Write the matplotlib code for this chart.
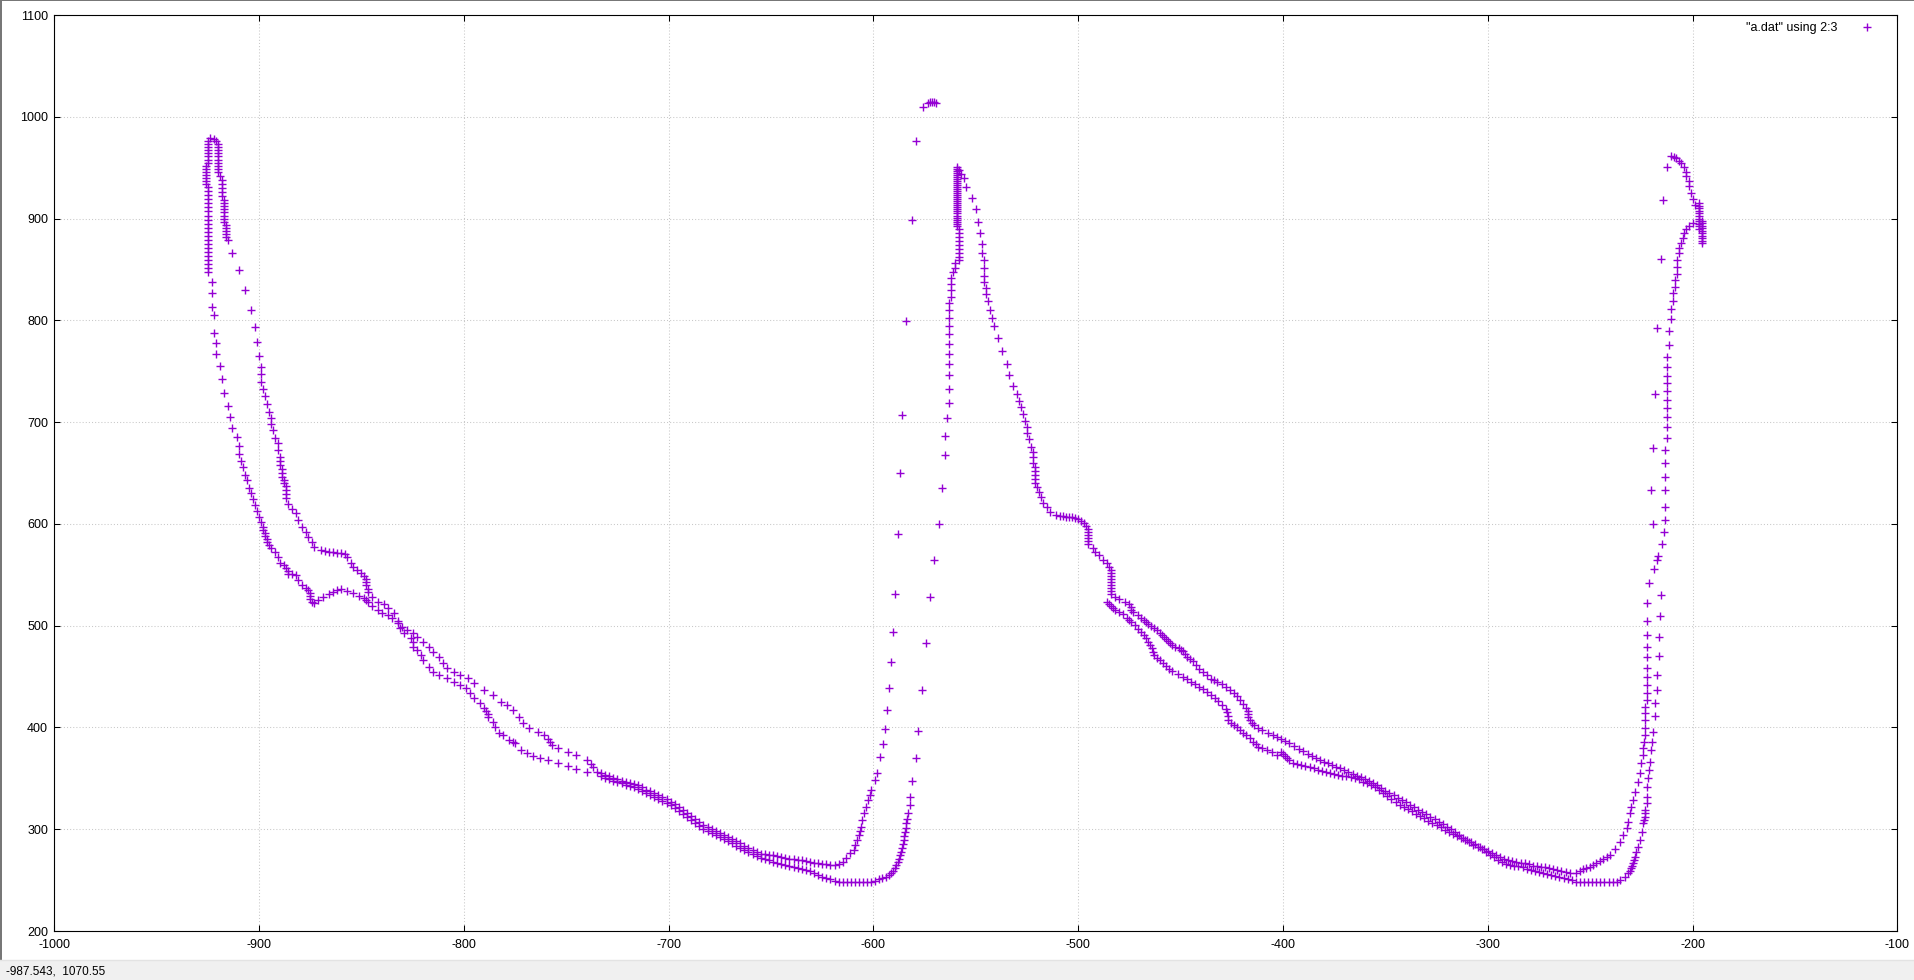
import matplotlib
matplotlib.use("Agg")
import matplotlib.pyplot as plt
from matplotlib.patches import Rectangle
from matplotlib.lines import Line2D

# ---- data: (x, y) = columns 2:3 of a.dat ----

# first cycle, left peak
peak1_outer = [(-924, 979), (-925, 976), (-925, 973), (-925, 970), (-925, 967), (-925, 964),
               (-925, 961), (-925, 958), (-925, 955), (-926, 952), (-926, 949), (-926, 946),
               (-926, 943), (-926, 940), (-926, 937), (-926, 934), (-925, 931), (-925, 927),
               (-925, 923), (-925, 919), (-925, 915), (-925, 911), (-925, 907), (-925, 903),
               (-925, 899), (-925, 895), (-925, 891), (-925, 887), (-925, 883), (-925, 879),
               (-925, 875), (-925, 871), (-925, 867), (-925, 863), (-925, 859), (-925, 855),
               (-925, 851), (-925, 847), (-923, 838), (-923, 827), (-923, 813), (-922, 805),
               (-922, 788), (-921, 778), (-921, 767), (-919, 755), (-918, 742)]
peak1_inner = [(-922, 978), (-921, 976), (-920, 973), (-920, 970), (-920, 967), (-920, 964),
               (-920, 961), (-920, 958), (-920, 955), (-920, 952), (-920, 949), (-920, 946),
               (-919, 942), (-918, 938), (-918, 934), (-918, 930), (-918, 926), (-918, 922),
               (-917, 918), (-917, 915), (-917, 912), (-917, 909), (-917, 906), (-917, 903),
               (-917, 900), (-917, 897), (-916, 894), (-916, 891), (-916, 888), (-916, 885),
               (-916, 882), (-915, 879)]

# first cycle, the two falling branches
fall1_upper = [(-913, 866), (-910, 849), (-907, 830), (-904, 810), (-902, 793), (-901, 779),
               (-900, 765), (-899, 754), (-899, 747), (-899, 739), (-898, 733), (-897, 726),
               (-896, 718), (-895, 710), (-894, 704), (-894, 698), (-893, 692), (-892, 684),
               (-891, 679), (-891, 673), (-890, 666), (-890, 662), (-890, 658), (-889, 654),
               (-889, 650), (-889, 646), (-888, 643), (-888, 640), (-887, 637), (-887, 633),
               (-887, 629), (-887, 625), (-886, 620), (-884, 615), (-882, 611), (-881, 604),
               (-879, 597), (-877, 592), (-876, 587), (-874, 582), (-873, 577), (-870, 574),
               (-868, 573), (-866, 572), (-864, 572), (-862, 571), (-860, 571), (-858, 570),
               (-857, 567), (-855, 562), (-854, 558), (-852, 555), (-850, 552), (-849, 549),
               (-848, 546), (-848, 543), (-848, 540), (-847, 536), (-847, 533), (-845, 528),
               (-842, 523), (-839, 521), (-837, 517), (-834, 512), (-832, 505), (-830, 499),
               (-828, 496), (-825, 493), (-823, 489), (-820, 484), (-817, 479), (-815, 474),
               (-812, 469), (-810, 463), (-808, 458), (-805, 454), (-802, 452), (-798, 449),
               (-795, 444), (-790, 437), (-786, 432), (-782, 425), (-779, 422), (-776, 417),
               (-773, 410), (-771, 404), (-768, 399), (-764, 396), (-761, 393), (-759, 389),
               (-758, 386), (-757, 383), (-754, 380), (-749, 376), (-745, 373), (-740, 368),
               (-738, 364), (-737, 361)]
fall1_lower = [(-917, 729), (-915, 716), (-914, 705), (-913, 694), (-911, 685), (-910, 677),
               (-910, 669), (-909, 662), (-908, 656), (-907, 648), (-906, 643), (-905, 635),
               (-904, 630), (-903, 624), (-902, 619), (-901, 613), (-900, 607), (-899, 602),
               (-898, 597), (-898, 594), (-897, 591), (-897, 588), (-896, 585), (-896, 582),
               (-895, 579), (-894, 576), (-892, 572), (-891, 567), (-890, 562), (-888, 560),
               (-887, 557), (-886, 554), (-886, 551), (-884, 551), (-882, 550), (-881, 545),
               (-879, 540), (-877, 537), (-876, 535), (-875, 532), (-875, 529), (-875, 526),
               (-874, 523), (-873, 522), (-871, 525), (-869, 528), (-866, 531), (-864, 533),
               (-862, 535), (-860, 536), (-857, 534), (-854, 532), (-851, 529), (-849, 527),
               (-848, 525), (-847, 523), (-845, 519), (-842, 515), (-840, 512), (-837, 510),
               (-835, 508), (-832, 503), (-831, 498), (-829, 493), (-826, 488), (-825, 484),
               (-825, 479), (-823, 476), (-821, 471), (-820, 466), (-817, 459), (-815, 454),
               (-812, 452), (-808, 449), (-805, 445), (-802, 442), (-799, 439), (-797, 434),
               (-795, 429), (-792, 424), (-790, 419), (-789, 416), (-788, 413), (-788, 410),
               (-786, 405), (-785, 400), (-783, 395), (-781, 393), (-778, 388), (-776, 386),
               (-775, 385), (-772, 378), (-769, 375), (-766, 372), (-763, 370), (-759, 368),
               (-754, 365), (-749, 362), (-745, 359), (-740, 356)]

# first trough: upper branch, then its sparse climb to the top at -570
trough1_upper = [(-735, 356), (-733, 355), (-731, 353.5), (-729, 352), (-727, 350.5),
                 (-725, 349), (-723, 347.5), (-721, 346.5), (-719, 345.5), (-717, 344.5),
                 (-715, 343), (-713, 341), (-711, 339), (-709, 337.5), (-707, 336), (-705, 334),
                 (-703, 332), (-701, 329.5), (-699, 327), (-697, 324.5), (-695, 322),
                 (-693, 319), (-691, 316), (-689, 313), (-687, 310), (-685, 307),
                 (-683, 304.5), (-681, 302), (-679, 300), (-677, 298), (-675, 296), (-673, 294),
                 (-671, 292), (-669, 290), (-667, 288), (-665, 286), (-663, 284), (-661, 282),
                 (-659, 280), (-657, 278), (-655, 276), (-653, 275.5), (-651, 275),
                 (-649, 274.5), (-647, 273.5), (-645, 272.5), (-643, 272), (-641, 271),
                 (-639, 270.5), (-637, 269.8), (-635, 269.5), (-633, 269), (-631, 268),
                 (-629, 267), (-627, 266.5), (-625, 266), (-623, 265.5), (-621, 265),
                 (-619, 265), (-617, 266), (-615, 268)]
climb1_left = [(-613.2, 271.4), (-611.5, 276.3), (-609.7, 279.6), (-608.8, 284.5),
               (-608, 289.4), (-607.1, 294.3), (-606.6, 298.5), (-606.2, 302.5),
               (-605.4, 309.1), (-604.5, 315.6), (-603.6, 322.1), (-602.7, 328.7),
               (-601.9, 333.6), (-601, 338.5), (-599.3, 348.4), (-598.4, 354.9), (-597, 371.3),
               (-595.3, 383.7), (-594.4, 398.2), (-593.5, 417.1), (-592.3, 438.4),
               (-591.3, 464), (-590.4, 493.5), (-589.3, 531.1), (-588, 590), (-587, 650),
               (-586, 707), (-584, 799), (-581, 899), (-579, 976), (-576, 1010),
               (-573.5, 1014), (-572.5, 1015), (-571.5, 1015), (-570.5, 1015), (-569.5, 1014)]

# first trough: lower branch, then its climb into the middle peak
trough1_lower = [(-733, 352), (-731, 350.5), (-729, 349), (-727, 347.5), (-725, 346.5),
                 (-723, 345), (-721, 343.5), (-719, 342), (-717, 341), (-715, 339.5),
                 (-713, 338), (-711, 336), (-709, 334), (-707, 332), (-705, 330), (-703, 328),
                 (-701, 326), (-699, 324), (-697, 321), (-695, 318), (-693, 315), (-691, 312),
                 (-689, 309), (-687, 306), (-685, 303), (-683, 300.5), (-681, 298),
                 (-679, 296), (-677, 294), (-675, 292), (-673, 290), (-671, 288), (-669, 286),
                 (-667, 284), (-665, 282), (-663, 280), (-661, 278), (-659, 276), (-657, 274),
                 (-655, 272), (-653, 271), (-651, 269.5), (-649, 268), (-647, 267),
                 (-645, 265.5), (-643, 264.5), (-641, 263.5), (-639, 263), (-637, 262),
                 (-635, 261), (-633, 260), (-631, 258.5), (-629, 257), (-627, 255),
                 (-625, 253.5), (-623, 252.5), (-621, 251.5), (-619, 249.5), (-617, 248.5),
                 (-615, 248.5), (-613, 248.5), (-611, 248.5), (-609, 248.5), (-607, 248.5),
                 (-605, 248.5), (-603, 248.5), (-601, 248.5)]
climb1_right = [(-599, 249.5), (-597.5, 250.8), (-596, 252), (-594, 253.4), (-592.5, 255),
                (-591.4, 256.7), (-590.5, 259), (-589.7, 261.6), (-588.8, 265),
                (-587.9, 268.1), (-587.4, 271), (-587, 274.7), (-586.6, 278), (-586.2, 281.3),
                (-585.7, 285), (-585.3, 289.4), (-585, 293), (-584.8, 297.6), (-584.3, 301.5),
                (-583.9, 305.8), (-583.4, 310), (-583, 315.6), (-582, 323.8), (-582, 331.7),
                (-581, 347.4), (-579.2, 369.7), (-578.2, 396.8), (-576.1, 436.8),
                (-574.3, 482.7), (-572.2, 527.9), (-570.2, 564.5), (-568, 600),
                (-566.5, 635), (-565, 668), (-565, 686), (-564, 704), (-563, 719), (-563, 733),
                (-563, 746), (-563, 757), (-563, 767), (-563, 777), (-563, 787), (-563, 794),
                (-563, 802), (-563, 810), (-563, 817), (-562, 823), (-562, 830), (-562, 836),
                (-562, 842), (-561, 847), (-560, 851), (-560, 856)]

# middle peak column
peak2 = [(-558, 859), (-558, 862), (-558, 866), (-558, 870), (-558, 874), (-558, 878),
         (-558, 882), (-558, 886), (-558, 890), (-559, 893), (-559, 895), (-559, 897),
         (-559, 899), (-559, 901), (-559, 903), (-559, 905), (-559, 907), (-559, 909),
         (-559, 911), (-559, 913), (-559, 915), (-559, 917), (-559, 919), (-559, 921),
         (-559, 923), (-559, 925), (-559, 927), (-559, 929), (-559, 931), (-559, 933),
         (-559, 935), (-559, 937), (-559, 939), (-559, 941), (-559, 943), (-559, 945),
         (-559, 947), (-559, 949), (-559, 951)]

# second cycle, falling from the middle peak
fall2_main = [(-558, 948), (-557, 944), (-556, 940), (-555, 931), (-552, 920), (-550, 909),
              (-549, 897), (-548, 886), (-547, 875), (-547, 866), (-546, 859), (-546, 851),
              (-546, 844), (-546, 838), (-545, 832), (-545, 826), (-544, 819), (-543, 810),
              (-542, 802), (-541, 794), (-539, 783), (-537, 770), (-535, 757), (-534, 746),
              (-532, 735), (-530, 728), (-529, 721), (-528, 715), (-527, 708), (-526, 701),
              (-525, 695), (-525, 689), (-524, 683), (-523, 676), (-522, 671), (-522, 666),
              (-522, 660), (-521, 656), (-521, 652), (-521, 648), (-521, 644), (-521, 640),
              (-520, 636), (-519, 631), (-518, 626), (-517, 621), (-515, 617), (-514, 612),
              (-511, 609), (-509, 608), (-507.5, 607.5), (-506, 607), (-504.5, 607),
              (-503, 606.5), (-501.5, 606), (-500, 605), (-498.5, 603), (-497, 601),
              (-496, 598), (-495, 595), (-495, 592), (-495, 589), (-495, 586), (-495, 583),
              (-495, 580), (-493, 576), (-492, 572), (-490, 569), (-488, 565), (-486, 562),
              (-485, 558), (-484, 555), (-484, 552), (-484, 549), (-484, 546), (-484, 543),
              (-484, 540), (-484, 537), (-484, 534), (-484, 531), (-482, 528), (-480, 526),
              (-477, 523), (-475, 521), (-474, 518), (-474, 515), (-473, 513)]
fall2_upper = [(-471, 510), (-469.5, 508), (-468, 506), (-467, 504), (-466, 502),
               (-464.5, 500), (-463, 498), (-461.5, 495.5), (-460, 493), (-459, 491),
               (-458, 489), (-457, 487), (-456, 485), (-455, 483), (-454, 481),
               (-452.5, 479.5), (-451, 478), (-450, 476.5), (-449, 475), (-448, 472),
               (-447, 469), (-445.5, 467), (-444, 465), (-442.5, 461), (-441, 457),
               (-439, 454.5), (-437, 452), (-435, 448), (-433.5, 446.5), (-432, 445),
               (-430, 442.5), (-428, 440), (-426, 437), (-424, 434), (-422.5, 430.5),
               (-421, 427), (-419.5, 423), (-418, 419), (-417, 416), (-417, 413), (-417, 410),
               (-416, 407), (-415, 404.5), (-414, 402), (-412, 399.5), (-410, 397),
               (-407.5, 395), (-405, 393), (-403, 391), (-401, 389), (-399, 387), (-397, 385),
               (-394.5, 382), (-392, 379), (-390, 376.5), (-388, 374), (-386, 372),
               (-384, 370), (-382, 368), (-380, 366.5), (-378, 365), (-376, 363),
               (-374, 361.5), (-372, 360), (-370, 358.5), (-368, 356.5), (-366, 354),
               (-364, 352.5), (-362, 351), (-360, 349), (-358, 347), (-356, 345), (-354, 343),
               (-352, 340.5), (-350, 338), (-348, 336), (-346, 334), (-344, 331), (-342, 329),
               (-340, 326.5), (-338, 324), (-336, 321.5), (-334, 319), (-332, 317),
               (-330, 315), (-328, 312.5), (-326, 310), (-324, 307.5), (-322, 305),
               (-320, 302.5), (-318, 300), (-316, 297), (-314, 294), (-312, 291.5),
               (-310, 289), (-308, 287), (-306, 285), (-304, 283), (-302, 281), (-300, 279),
               (-298, 277), (-296, 275), (-294, 273), (-292, 271), (-290, 269.5),
               (-288, 268.5), (-286, 267.5), (-284, 267), (-282, 266.5), (-280, 265.5),
               (-278, 264), (-276, 263.5), (-274, 263), (-272, 262.5), (-270, 261.5),
               (-268, 260.5), (-266, 259.5), (-264, 258.5), (-262, 258), (-260, 257)]
fall2_lower = [(-486, 523), (-485, 521), (-484, 519), (-483, 517), (-482, 515), (-480, 513),
               (-478, 511), (-476, 508), (-475, 506), (-474, 504), (-472.5, 500.5),
               (-471, 497), (-469.5, 494), (-468, 491), (-467, 487.5), (-466, 484),
               (-465, 481), (-464, 478), (-463.5, 474.5), (-463, 471), (-461.5, 468.5),
               (-460, 466), (-458.5, 463), (-457, 460), (-455.5, 457.5), (-454, 455),
               (-451.5, 452.5), (-449, 450), (-447, 447.5), (-445, 445), (-443, 442.5),
               (-441, 440), (-439, 437.5), (-437, 435), (-435, 432), (-433, 429),
               (-431.5, 425.5), (-430, 422), (-428, 418), (-427.5, 415.5), (-427, 411),
               (-427, 407), (-425.5, 404.5), (-424, 402), (-422.5, 400), (-421, 397.5),
               (-419.5, 395), (-418, 393), (-416, 389.5), (-414.5, 386), (-413, 383.5),
               (-412, 381), (-410, 379.5), (-408, 378), (-405.5, 375.5), (-403, 373),
               (-401, 376), (-400, 374), (-399, 372), (-398, 370), (-397, 368), (-395, 365),
               (-393, 364), (-391, 363.5), (-389, 362.5), (-387, 361.5), (-385, 360),
               (-383, 358.5), (-381, 357), (-379, 356), (-377, 355.5), (-375, 354.5),
               (-373, 353.5), (-371, 352.5), (-369, 352), (-367, 351), (-365, 350),
               (-363, 349), (-361, 346.5), (-359, 345), (-357, 343), (-355, 341),
               (-353, 338.5), (-351, 336), (-349, 333), (-347, 330), (-345, 327), (-343, 324),
               (-341, 322), (-339, 320), (-337, 317.5), (-335, 315), (-333, 313), (-331, 311),
               (-329, 308.5), (-327, 306), (-325, 304), (-323, 302), (-321, 299.5),
               (-319, 297.5), (-317, 295.5), (-315, 293.5), (-313, 291), (-311, 289),
               (-309, 287), (-307, 284.5), (-305, 282.5), (-303, 280.5), (-301, 278),
               (-299, 275), (-297, 272.5), (-295, 270), (-293, 268), (-291, 266), (-289, 265),
               (-287, 264), (-285, 263.5), (-283, 262.5), (-281, 261), (-279, 260),
               (-277, 258.5), (-275, 257.5), (-273, 257), (-271, 256), (-269, 255),
               (-267, 254), (-265, 253), (-263, 252), (-261, 251), (-259, 250)]

# second trough: upper branch climbing into the right peak column
climb2_left = [(-257, 257.3), (-255, 259), (-253.4, 260.6), (-251.8, 262), (-250.2, 263.2),
               (-248.5, 265), (-247, 267), (-245.3, 268.8), (-243.6, 270.4), (-242, 272.5),
               (-240.4, 274.7), (-238, 281), (-235.5, 287.7), (-234, 294), (-232, 301),
               (-231.4, 307), (-230.6, 315.6), (-229.8, 322), (-229, 329), (-228, 337),
               (-226.6, 346.7), (-225.7, 355), (-225, 365), (-224.4, 373), (-224, 379.5),
               (-223.6, 386), (-223.3, 392.6), (-223, 399), (-223, 407), (-223, 414),
               (-223, 420), (-222.4, 427), (-222.4, 434), (-222.4, 442), (-222.4, 450),
               (-222.4, 458), (-222.4, 469), (-222.4, 479), (-222.4, 491), (-222.4, 505),
               (-222.4, 522.6), (-221.3, 542), (-219, 556), (-217, 568), (-215, 580),
               (-214, 592), (-213.4, 604), (-213.4, 617), (-213.4, 633), (-213.4, 646),
               (-213.4, 659.5), (-213.4, 672.6), (-212.4, 684), (-212.4, 695), (-212.4, 704.7),
               (-212.4, 713.5), (-212.4, 721.7), (-212.4, 730.6), (-212.4, 738), (-212.4, 745),
               (-212.4, 754), (-212.4, 764), (-211.5, 776), (-211.5, 790), (-210.5, 801),
               (-210.5, 811), (-209.5, 819), (-209.5, 826.5), (-208.5, 833), (-208.5, 840),
               (-207.6, 846), (-207.6, 852.7), (-207.6, 859), (-206.6, 866), (-206.6, 871),
               (-205.6, 875.6), (-204.6, 880.6), (-204.3, 885.5), (-203, 889.4),
               (-201.7, 892.7), (-200, 895.3)]

# second trough: lower branch, its sparse climb and the arc over the right peak
climb2_right = [(-257, 248.5), (-255, 248.5), (-253, 248.5), (-251, 248.5), (-249, 248.5),
                (-247, 248.5), (-245, 248.5), (-243, 248.5), (-241, 248.5), (-239, 248.5),
                (-237, 248.5), (-235.5, 250), (-233, 253.4), (-231.4, 256.7), (-230.5, 259),
                (-229.8, 261.6), (-229.4, 264), (-229, 266.5), (-228.6, 270), (-228.2, 273),
                (-227.4, 278), (-226.6, 283), (-225.7, 289.4), (-224.9, 297.6),
                (-224.4, 305.8), (-223.6, 309), (-223.3, 312), (-223.3, 315.6), (-223.3, 319),
                (-222.4, 325.4), (-222.2, 332), (-222.1, 341.8), (-221.6, 350), (-221.3, 358),
                (-220.8, 366), (-220.5, 378), (-220, 386), (-219.2, 396), (-218.4, 411),
                (-218.1, 424), (-217.3, 437), (-217.3, 452), (-216.5, 470.5), (-216.5, 489),
                (-215.7, 509.5), (-215.5, 530), (-217.5, 565), (-219.5, 600), (-220.2, 633),
                (-219.2, 675), (-218.3, 728), (-217.3, 792), (-215.3, 860), (-214.4, 918),
                (-212.4, 951), (-210.5, 961.5), (-209.1, 960.8), (-207.9, 959.2),
                (-206.6, 956.9), (-205.4, 954.3), (-204.3, 951), (-203, 946), (-203, 941.8),
                (-201.9, 937), (-201.9, 932), (-200.9, 925.4), (-200, 919), (-199, 913.3)]

# right peak block
peak3 = [(-196.8, 915), (-196.8, 912.5), (-196.8, 910), (-196.8, 907.5), (-196.8, 905),
         (-196.8, 902.5), (-196.8, 900), (-196.8, 897.5), (-196.8, 895), (-196.8, 892.5),
         (-196.8, 890), (-195.5, 898), (-195.5, 895.5), (-195.5, 893), (-195.5, 890.5),
         (-195.5, 888), (-195.5, 885.5), (-195.5, 883), (-195.5, 880.5), (-195.5, 878),
         (-195.5, 876)]

tracks = [peak1_outer, peak1_inner, fall1_upper, fall1_lower, trough1_upper, climb1_left,
          trough1_lower, climb1_right, peak2, fall2_main, fall2_upper, fall2_lower,
          climb2_left, climb2_right, peak3]

x_tick_vals = list(range(-1000, -99, 100))
y_tick_vals = list(range(200, 1101, 100))
status_text = "-987.543,  1070.55"
legend_label = '"a.dat" using 2:3'

xs = [p[0] for t in tracks for p in t]
ys = [p[1] for t in tracks for p in t]

plt.rcParams['font.family'] = ['Liberation Sans', 'DejaVu Sans']
plt.rcParams['axes.unicode_minus'] = False

W, H = 1914, 980
fig = plt.figure(figsize=(W / 100, H / 100), dpi=100)

# plot area in pixels: x 54..1897, y 15..931 from the top
ax = fig.add_axes([54.3 / W, 49 / H, 1843 / W, 916 / H])
ax.set_xlim(-1000, -100)
ax.set_ylim(200, 1100)
ax.set_xticks(x_tick_vals)
ax.set_yticks(y_tick_vals)
ax.tick_params(direction='in', length=4.5, width=0.75, top=True, right=True,
               labelsize=9, colors='black')
ax.tick_params(axis='y', pad=4.5)
ax.tick_params(axis='x', pad=6)
for s in ax.spines.values():
    s.set_linewidth(0.8)
ax.grid(True, color='#c8c8c8', linestyle=(0, (1, 2)), linewidth=0.75)
ax.set_axisbelow(True)

ax.plot(xs, ys, linestyle='none', marker='+', markersize=5.3, markeredgewidth=1.0,
        color='#9400d3', label=legend_label)

ax.legend(loc='upper right', bbox_to_anchor=(0.9904, 0.9924), frameon=False,
          markerfirst=False, fontsize=9, handlelength=2, handletextpad=1.4,
          borderpad=0, borderaxespad=0)

# window chrome: status bar and the frame lines
fig.add_artist(Rectangle((0, 0), 1, 20 / H, transform=fig.transFigure,
                         facecolor='#f0f0f0', edgecolor='none', zorder=-5))
fig.add_artist(Line2D([0, 1], [20.5 / H, 20.5 / H], transform=fig.transFigure,
                      color='#e3e3e3', linewidth=1))
fig.add_artist(Rectangle((0, 20 / H), 2 / W, 1 - 20 / H, transform=fig.transFigure,
                         facecolor='#777777', edgecolor='none'))
fig.add_artist(Rectangle((0, 1 - 1.5 / H), 1, 1.5 / H, transform=fig.transFigure,
                         facecolor='#777777', edgecolor='none'))
fig.text(6.5 / W, 9 / H, status_text, fontsize=8.5, va='center', ha='left')

fig.savefig('out.png', dpi=100)
